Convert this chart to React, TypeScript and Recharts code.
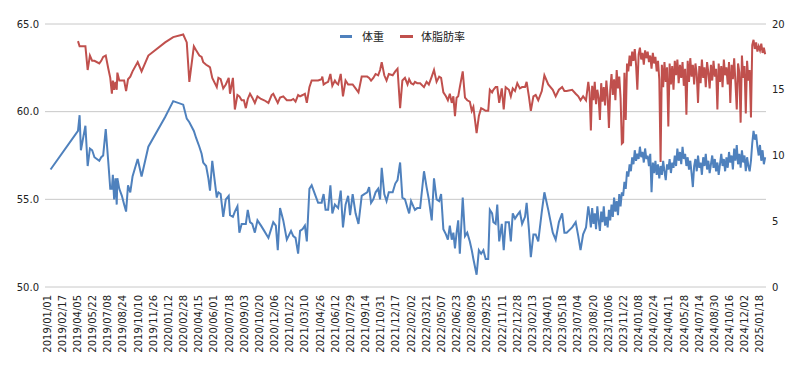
import { LineChart, Line, XAxis, YAxis, CartesianGrid } from "recharts";

// 計測日 (2019/01 - 2023/08 は数日おき)
const weeklyDates = [
  "2019/01/12", "2019/04/07", "2019/04/12", "2019/04/16", "2019/04/30", "2019/05/07", "2019/05/14", "2019/05/21",
  "2019/05/28", "2019/06/12", "2019/06/18", "2019/06/24", "2019/07/02", "2019/07/10", "2019/07/16", "2019/07/21",
  "2019/07/24", "2019/07/28", "2019/08/01", "2019/08/05", "2019/08/07", "2019/08/13", "2019/08/21", "2019/08/28",
  "2019/09/03", "2019/09/09", "2019/09/16", "2019/09/23", "2019/10/09", "2019/10/21", "2019/11/11", "2020/01/02",
  "2020/01/27", "2020/02/27", "2020/03/09", "2020/03/17", "2020/03/31", "2020/04/07", "2020/04/17", "2020/04/24",
  "2020/04/29", "2020/05/08", "2020/05/15", "2020/05/20", "2020/05/27", "2020/06/10", "2020/06/15", "2020/06/22",
  "2020/06/30", "2020/07/08", "2020/07/17", "2020/07/21", "2020/07/30", "2020/08/05", "2020/08/13", "2020/08/19",
  "2020/08/26", "2020/09/02", "2020/09/08", "2020/09/14", "2020/09/21", "2020/09/28", "2020/10/06", "2020/10/14",
  "2020/10/25", "2020/11/04", "2020/11/17", "2020/11/27", "2020/12/02", "2020/12/10", "2020/12/16", "2020/12/23",
  "2021/01/02", "2021/01/13", "2021/01/26", "2021/02/02", "2021/02/09", "2021/02/17", "2021/02/23", "2021/03/03",
  "2021/03/10", "2021/03/16", "2021/03/24", "2021/03/31", "2021/04/12", "2021/04/20", "2021/05/01", "2021/05/03",
  "2021/05/07", "2021/05/13", "2021/05/21", "2021/05/28", "2021/06/03", "2021/06/11", "2021/06/16", "2021/06/21",
  "2021/06/29", "2021/07/06", "2021/07/14", "2021/07/22", "2021/07/28", "2021/08/05", "2021/08/14", "2021/08/23",
  "2021/09/02", "2021/09/10", "2021/09/19", "2021/09/25", "2021/10/01", "2021/10/08", "2021/10/15", "2021/10/23",
  "2021/10/29", "2021/11/03", "2021/11/11", "2021/11/18", "2021/11/25", "2021/12/07", "2021/12/15", "2021/12/22",
  "2021/12/30", "2022/01/06", "2022/01/14", "2022/01/22", "2022/01/27", "2022/02/02", "2022/02/09", "2022/02/14",
  "2022/02/21", "2022/03/02", "2022/03/14", "2022/03/22", "2022/03/29", "2022/04/07", "2022/04/14", "2022/04/22",
  "2022/04/30", "2022/05/06", "2022/05/13", "2022/05/21", "2022/05/27", "2022/06/02", "2022/06/08", "2022/06/13",
  "2022/06/18", "2022/06/23", "2022/06/28", "2022/07/03", "2022/07/12", "2022/07/19", "2022/07/26", "2022/08/03",
  "2022/08/09", "2022/08/14", "2022/08/24", "2022/08/31", "2022/09/07", "2022/09/14", "2022/09/21", "2022/09/29",
  "2022/10/04", "2022/10/11", "2022/10/15", "2022/10/22", "2022/10/27", "2022/11/02", "2022/11/10", "2022/11/16",
  "2022/11/22", "2022/12/02", "2022/12/08", "2022/12/14", "2022/12/21", "2022/12/28", "2023/01/05", "2023/01/12",
  "2023/01/21", "2023/01/26", "2023/02/02", "2023/02/08", "2023/02/16", "2023/02/23", "2023/03/03", "2023/03/14",
  "2023/03/22", "2023/04/03", "2023/04/17", "2023/04/26", "2023/05/06", "2023/05/16", "2023/05/23", "2023/05/30",
  "2023/06/16", "2023/06/27", "2023/07/05", "2023/07/12", "2023/07/20", "2023/07/29", "2023/08/05",
];

const weeklyWeight = [
  56.7, 58.9, 59.8, 57.8, 59.2, 56.9, 57.9, 57.8, 57.4, 57.2, 57.4, 57.5, 59.0, 57.1, 55.6, 55.6,
  56.4, 55.0, 56.2, 54.7, 56.2, 55.6, 55.2, 54.7, 54.3, 55.8, 55.4, 56.3, 57.3, 56.3, 58.0, 59.7,
  60.6, 60.4, 59.6, 59.4, 58.9, 58.5, 58.0, 57.6, 57.1, 56.9, 56.2, 55.5, 57.2, 55.1, 55.4, 55.3,
  54.0, 55.0, 55.2, 54.1, 54.0, 54.3, 54.6, 53.1, 53.6, 53.6, 53.6, 54.4, 53.7, 53.6, 53.1, 53.8,
  53.5, 53.2, 52.8, 53.4, 53.7, 53.5, 52.1, 54.5, 53.8, 52.7, 53.2, 52.9, 52.8, 51.9, 53.2, 53.3,
  53.5, 52.6, 55.6, 55.8, 55.2, 54.8, 54.8, 55.0, 55.3, 54.4, 54.4, 55.8, 54.2, 54.7, 54.6, 54.5,
  55.5, 53.4, 54.7, 55.2, 54.1, 55.3, 54.2, 53.6, 55.2, 55.3, 55.4, 55.7, 54.8, 55.0, 55.4, 55.6,
  55.0, 56.8, 55.3, 54.9, 55.4, 55.4, 55.9, 56.1, 57.1, 55.1, 55.0, 54.5, 54.2, 54.9, 54.6, 54.4,
  54.5, 54.5, 56.6, 55.7, 55.0, 53.8, 56.2, 55.0, 54.9, 55.3, 53.3, 53.0, 52.7, 53.5, 52.7, 53.1,
  52.2, 53.1, 53.8, 51.9, 55.1, 52.9, 53.1, 52.6, 52.1, 51.6, 50.7, 52.1, 51.9, 52.1, 51.6, 51.6,
  54.4, 54.2, 53.7, 53.6, 54.7, 52.6, 53.6, 52.1, 53.7, 53.7, 52.6, 54.2, 53.9, 54.1, 54.3, 53.6,
  54.0, 54.8, 53.3, 51.7, 53.0, 53.0, 52.6, 54.3, 55.4, 54.4, 53.1, 52.7, 53.7, 54.2, 53.1, 53.1,
  53.4, 53.7, 52.9, 52.1, 53.0, 53.4, 54.6,
];

const weeklyFat = [
  null, 18.7, 18.3, 18.3, 18.3, 16.5, 17.6, 17.2, 17.2, 17.0, 17.2, 17.5, 17.6, 16.6, 15.9, 14.7,
  15.7, 15.0, 15.6, 15.0, 16.3, 15.7, 15.7, 15.7, 14.9, 15.8, 16.0, 16.4, 17.1, 16.4, 17.6, 18.6,
  19.0, 19.2, 18.6, 15.6, 18.3, 18.0, 17.6, 17.5, 17.1, 16.9, 16.8, 16.7, 15.9, 15.2, 15.9, 15.8,
  15.1, 15.4, 15.9, 14.7, 15.9, 13.5, 14.6, 14.5, 14.2, 14.2, 13.6, 14.3, 14.7, 14.4, 14.0, 14.5,
  14.3, 14.2, 14.0, 14.6, 14.7, 14.3, 14.0, 14.4, 14.5, 14.2, 14.2, 14.3, 14.1, 14.6, 14.5, 14.6,
  14.7, 14.0, 15.2, 15.7, 15.7, 15.7, 15.8, 16.0, 15.4, 15.5, 15.6, 16.2, 15.3, 15.7, 15.5, 15.4,
  16.2, 14.5, 15.7, 15.4, 15.4, 15.4, 15.1, 14.8, 16.0, 16.0, 16.0, 15.9, 15.7, 15.9, 16.2, 16.1,
  16.5, 17.1, 16.1, 15.7, 16.2, 16.1, 16.4, 16.6, 13.6, 15.7, 15.9, 15.4, 15.8, 15.5, 15.4, 15.6,
  15.5, 15.5, 15.2, 15.6, 15.4, 16.0, 16.5, 15.6, 16.0, 15.9, 14.8, 14.5, 14.2, 14.7, 14.0, 14.5,
  13.0, 14.4, 14.5, 15.2, 16.4, 14.4, 14.2, 14.1, 13.4, 13.7, 11.7, 13.0, 13.6, 13.5, 13.4, 13.4,
  15.0, 14.8, 15.0, 15.2, 15.2, 14.0, 15.1, 13.5, 15.2, 15.0, 14.5, 15.1, 14.9, 15.5, 15.1, 15.2,
  15.2, 15.6, 14.5, 13.4, 14.5, 14.6, 14.2, 14.9, 16.1, 15.4, 15.0, 14.5, 15.0, 15.2, 14.9, 14.9,
  15.0, 14.7, 14.5, 14.2, 14.5, 14.2, 15.6,
];

// 2023/08 以降はほぼ毎日 (ここでは4日おき)
const dailyDates = [
  "2023/08/09", "2023/08/13", "2023/08/17", "2023/08/21", "2023/08/25", "2023/08/29", "2023/09/02", "2023/09/06",
  "2023/09/10", "2023/09/14", "2023/09/18", "2023/09/22", "2023/09/26", "2023/09/30", "2023/10/04", "2023/10/08",
  "2023/10/12", "2023/10/16", "2023/10/20", "2023/10/24", "2023/10/28", "2023/11/01", "2023/11/05", "2023/11/09",
  "2023/11/13", "2023/11/17", "2023/11/21", "2023/11/25", "2023/11/29", "2023/12/03", "2023/12/07", "2023/12/11",
  "2023/12/15", "2023/12/19", "2023/12/23", "2023/12/27", "2023/12/31", "2024/01/04", "2024/01/08", "2024/01/12",
  "2024/01/16", "2024/01/20", "2024/01/24", "2024/01/28", "2024/02/01", "2024/02/05", "2024/02/09", "2024/02/13",
  "2024/02/17", "2024/02/21", "2024/02/25", "2024/02/29", "2024/03/04", "2024/03/08", "2024/03/12", "2024/03/16",
  "2024/03/20", "2024/03/24", "2024/03/28", "2024/04/01", "2024/04/05", "2024/04/09", "2024/04/13", "2024/04/17",
  "2024/04/21", "2024/04/25", "2024/04/29", "2024/05/03", "2024/05/07", "2024/05/11", "2024/05/15", "2024/05/19",
  "2024/05/23", "2024/05/27", "2024/05/31", "2024/06/04", "2024/06/08", "2024/06/12", "2024/06/16", "2024/06/20",
  "2024/06/24", "2024/06/28", "2024/07/02", "2024/07/06", "2024/07/10", "2024/07/14", "2024/07/18", "2024/07/22",
  "2024/07/26", "2024/07/30", "2024/08/03", "2024/08/07", "2024/08/11", "2024/08/15", "2024/08/19", "2024/08/23",
  "2024/08/27", "2024/08/31", "2024/09/04", "2024/09/08", "2024/09/12", "2024/09/16", "2024/09/20", "2024/09/24",
  "2024/09/28", "2024/10/02", "2024/10/06", "2024/10/10", "2024/10/14", "2024/10/18", "2024/10/22", "2024/10/26",
  "2024/10/30", "2024/11/03", "2024/11/07", "2024/11/11", "2024/11/15", "2024/11/19", "2024/11/23", "2024/11/27",
  "2024/12/01", "2024/12/05", "2024/12/09", "2024/12/13", "2024/12/17", "2024/12/21", "2024/12/25", "2024/12/29",
  "2025/01/02", "2025/01/06", "2025/01/10", "2025/01/14", "2025/01/18", "2025/01/22", "2025/01/26", "2025/01/30",
  "2025/02/03",
];

const dailyWeight = [
  54.1, 53.4, 54.5, 53.6, 54.2, 53.3, 54.6, 53.8, 53.2, 54.3, 53.7, 54.6, 53.5, 54.0, 53.4, 54.4,
  53.8, 54.7, 54.0, 55.1, 54.3, 54.9, 54.1, 55.3, 54.6, 55.4,
  55.2, 56.0, 55.6, 56.6, 56.3,
  57.0, 56.6, 57.4, 57.0, 57.8, 57.2, 57.6, 57.3, 58.0, 57.4, 57.7, 57.1, 57.9, 57.3, 57.5, 56.9,
  57.6, 55.4, 57.1, 56.5, 57.2, 56.4,
  57.0, 56.2, 56.9, 56.4, 57.2, 56.6, 56.1, 57.0, 56.7, 57.3, 56.5, 57.1, 56.8, 57.5, 56.9, 57.9,
  57.2, 57.7, 57.0, 58.0, 57.3, 57.6, 56.9,
  57.4, 56.7, 57.2, 56.5, 55.7, 56.9, 57.3, 56.6, 57.5, 56.8, 57.1, 56.4, 57.4, 56.9, 57.6, 56.7,
  57.2, 56.5, 57.0, 57.5, 56.8, 57.3, 56.6, 57.1, 56.4, 57.0, 57.6, 56.9, 57.3, 56.6, 57.4, 56.8,
  57.7, 57.1, 57.5, 56.7, 57.9, 57.2, 58.1, 57.0, 57.6, 56.8, 57.8, 57.1, 57.5, 56.6, 57.4, 56.9,
  56.6,
  57.2, 58.2, 58.9, 58.4, 58.7, 58.0, 57.5, 58.1, 57.2, 57.8, 57.0, 57.4,
];

const dailyFat = [
  14.8, 11.9, 15.3, 14.2, 15.6, 13.9, 15.0, 14.4, 12.7, 15.5, 14.1, 15.2, 13.8, 15.7, 14.5, 12.1,
  15.0, 16.2, 14.6, 15.8, 14.2, 16.5, 15.1, 16.0, 14.4, 10.9,
  11.0, 16.3, 12.7, 17.0, 16.4,
  17.6, 16.8, 17.9, 17.2, 18.1, 16.9, 15.0, 17.7, 18.2, 17.3, 17.8, 16.9, 18.0, 17.4, 17.9, 17.1,
  17.6, 16.6, 17.8, 17.0, 17.5, 16.4,
  17.2, 15.8, 9.5, 16.9, 15.2, 17.1, 15.6, 16.7, 12.2, 17.0, 15.4, 16.8, 15.0, 17.2, 16.1, 17.3,
  15.5, 16.9, 15.9, 17.1, 15.3, 16.6, 13.1,
  17.2, 15.6, 17.4, 16.0, 16.9, 15.4, 17.0, 16.2, 14.0, 16.8, 15.5, 17.3, 15.9, 16.7, 15.2, 17.1,
  16.3, 15.1, 16.9, 15.7, 17.2, 16.0, 16.6, 13.5, 17.0, 15.6, 16.8, 15.2, 17.3, 16.1, 16.7, 15.4,
  17.1, 14.0, 16.9, 15.8, 17.4, 15.5, 13.5, 17.0, 16.3, 12.5, 17.6, 15.9, 16.8, 13.2, 17.2, 15.7,
  16.5,
  12.9, 18.4, 18.8, 18.1, 18.6, 17.9, 18.3, 18.0, 18.5, 17.8, 18.2, 17.7,
];

const tickLabels = [
  "2019/01/01", "2019/02/17", "2019/04/05", "2019/05/22", "2019/07/08", "2019/08/24", "2019/10/10", "2019/11/26",
  "2020/01/12", "2020/02/28", "2020/04/15", "2020/06/01", "2020/07/18", "2020/09/03", "2020/10/20", "2020/12/06",
  "2021/01/22", "2021/03/10", "2021/04/26", "2021/06/12", "2021/07/29", "2021/09/14", "2021/10/31", "2021/12/17",
  "2022/02/02", "2022/03/21", "2022/05/07", "2022/06/23", "2022/08/09", "2022/09/25", "2022/11/11", "2022/12/28",
  "2023/02/13", "2023/04/01", "2023/05/18", "2023/07/04", "2023/08/20", "2023/10/06", "2023/11/22", "2024/01/08",
  "2024/02/24", "2024/04/11", "2024/05/28", "2024/07/14", "2024/08/30", "2024/10/16", "2024/12/02", "2025/01/18",
];

const weightTicks = [50, 55, 60, 65];
const fatTicks = [0, 5, 10, 15, 20];

const BLUE = "#4F81BD";
const RED = "#C0504D";

// 2019/01/01 からの日数
const toDay = (s: string) => {
  const [y, m, d] = s.split("/").map(Number);
  return (Date.UTC(y, m - 1, d) - Date.UTC(2019, 0, 1)) / 86400000;
};

const dates = [...weeklyDates, ...dailyDates];
const weights = [...weeklyWeight, ...dailyWeight];
const fats = [...weeklyFat, ...dailyFat];

const data = dates.map((d, i) => ({ t: toDay(d), weight: weights[i], fat: fats[i] }));

const tickDays = tickLabels.map(toDay);
const labelByDay = new Map(tickLabels.map((s) => [toDay(s), s]));

const DateTick = ({ x, y, payload }: any) => (
  <g transform={`translate(${x},${y}) rotate(-90)`}>
    <text x={0} y={0} dy="0.35em" textAnchor="end" fontSize={10} fill="#222">
      {labelByDay.get(payload.value)}
    </text>
  </g>
);

export default function App() {
  return (
    <div
      style={{
        position: "absolute",
        left: 0,
        top: 0,
        width: 809,
        height: 371,
        background: "#fff",
        fontFamily: "'DejaVu Sans', sans-serif",
      }}
    >
      <LineChart width={809} height={371} data={data} margin={{ top: 24, right: 0, bottom: 0, left: 0 }}>
        <CartesianGrid yAxisId="left" vertical={false} stroke="#C8C8C8" />
        <XAxis
          dataKey="t"
          type="number"
          domain={[-6.2, 2227.6]}
          ticks={tickDays}
          interval={0}
          height={84}
          axisLine={false}
          tickLine={false}
          tick={<DateTick />}
        />
        <YAxis
          yAxisId="left"
          domain={[50, 65]}
          ticks={weightTicks}
          width={45}
          axisLine={false}
          tickLine={false}
          tickMargin={0}
          tickFormatter={(v: number) => v.toFixed(1)}
          tick={{ fontSize: 10, fill: "#222" }}
        />
        <YAxis
          yAxisId="right"
          orientation="right"
          domain={[0, 20]}
          ticks={fatTicks}
          width={43}
          axisLine={false}
          tickLine={false}
          tickMargin={0}
          tick={{ fontSize: 10, fill: "#222", textAnchor: "start" }}
        />
        <Line
          yAxisId="left"
          dataKey="weight"
          stroke={BLUE}
          strokeWidth={2}
          dot={false}
          isAnimationActive={false}
        />
        <Line
          yAxisId="right"
          dataKey="fat"
          stroke={RED}
          strokeWidth={2}
          dot={false}
          isAnimationActive={false}
        />
      </LineChart>

      <div
        style={{
          position: "absolute",
          top: 28,
          left: 340,
          display: "flex",
          alignItems: "center",
          fontFamily: "'Noto Sans CJK JP', sans-serif",
          fontSize: 11,
          color: "#222",
          lineHeight: "16px",
        }}
      >
        <span style={{ width: 12, height: 3, background: BLUE, display: "inline-block" }} />
        <span style={{ marginLeft: 10 }}>体重</span>
        <span style={{ width: 13, height: 3, background: RED, display: "inline-block", marginLeft: 16 }} />
        <span style={{ marginLeft: 8 }}>体脂肪率</span>
      </div>
    </div>
  );
}
